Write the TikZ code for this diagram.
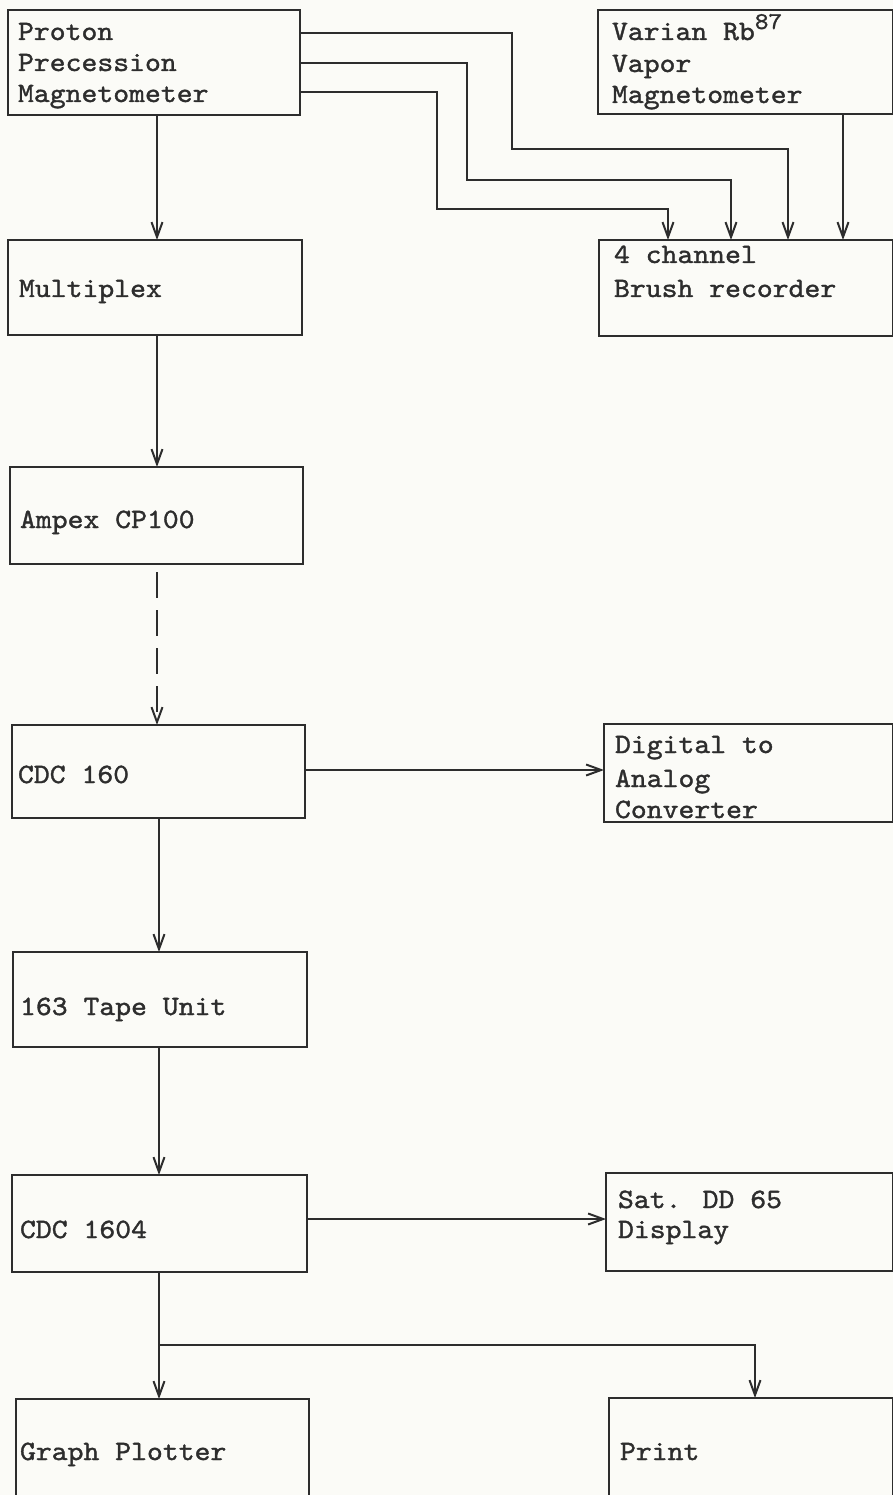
\documentclass[tikz,border=0pt]{standalone}
\usepackage{fontspec}
\newfontfamily\tw{lmmono10-regular.otf}[FakeStretch=1.08,FakeBold=1.3]
\usetikzlibrary{arrows.meta}
\definecolor{ink}{RGB}{45,45,45}
\definecolor{paper}{RGB}{251,251,247}
\begin{document}
\begin{tikzpicture}[x=1pt,y=-1pt,
  box/.style={draw=ink, line width=2.1pt, inner sep=0pt, outer sep=0pt, rectangle, anchor=north west},
  lbl/.style={anchor=base west, inner sep=0pt, outer sep=0pt, text=ink, font=\fontsize{28}{31}\selectfont\tw},
  conn/.style={draw=ink, line width=2pt, -{Straight Barb[length=15pt,width=11pt]}},
  dashconn/.style={conn, dash pattern=on 26pt off 12pt, dash phase=30pt},
]
\fill[paper] (0,0) rectangle (893,1495);
\useasboundingbox (0,0) rectangle (893,1495);

% boxes
\node[box, minimum width=292pt, minimum height=105pt] (proton)    at (8,10) {};
\node[box, minimum width=295pt, minimum height=104pt] (varian)    at (598,10) {};
\node[box, minimum width=294pt, minimum height=95pt]  (multiplex) at (8,240) {};
\node[box, minimum width=294pt, minimum height=96pt]  (brush)     at (599,240) {};
\node[box, minimum width=293pt, minimum height=97pt]  (ampex)     at (10,467) {};
\node[box, minimum width=293pt, minimum height=93pt]  (cdcA)      at (12,725) {};
\node[box, minimum width=289pt, minimum height=98pt]  (dac)       at (604,724) {};
\node[box, minimum width=294pt, minimum height=95pt]  (tape)      at (13,952) {};
\node[box, minimum width=295pt, minimum height=97pt]  (cdcB)      at (12,1175) {};
\node[box, minimum width=287pt, minimum height=98pt]  (sat)       at (606,1173) {};
\node[box, minimum width=293pt, minimum height=110pt] (graph)     at (16,1399) {};
\node[box, minimum width=284pt, minimum height=110pt] (print)     at (609,1398) {};

% labels
\node[lbl] (t1a) at (18,40)  {Proton};
\node[lbl] (t1b) at (18,71)  {Precession};
\node[lbl] (t1c) at (18,102) {Magnetometer};
\node[lbl] (t2a) at (612,40) {Varian Rb\raisebox{11pt}{\fontsize{24}{24}\selectfont\tw 87}};
\node[lbl] (t2b) at (612,72) {Vapor};
\node[lbl] (t2c) at (612,103) {Magnetometer};
\node[lbl] (t3)  at (19,297) {Multiplex};
\node[lbl] (t4a) at (614,263) {4 channel};
\node[lbl] (t4b) at (614,297) {Brush recorder};
\node[lbl] (t5)  at (20,528) {Ampex CP100};
\node[lbl] (t6)  at (18,783) {CDC 160};
\node[lbl] (t7a) at (615,753) {Digital to};
\node[lbl] (t7b) at (615,787) {Analog};
\node[lbl] (t7c) at (615,818) {Converter};
\node[lbl] (t8)  at (20,1015) {163 Tape Unit};
\node[lbl] (t9)  at (20,1238) {CDC 1604};
\node[lbl] (t10a) at (618,1208) {Sat. DD 65};
\node[lbl] (t10b) at (618,1238) {Display};
\node[lbl] (t11) at (20,1460) {Graph Plotter};
\node[lbl] (t12) at (620,1460) {Print};

% connectors
\draw[conn] (proton.south -| 157,0) -- (multiplex.north -| 157,0);
\draw[conn] (proton.east |- 0,33) -| (512,149) -| (brush.north -| 788,0);
\draw[conn] (proton.east |- 0,63) -| (467,180) -| (brush.north -| 731,0);
\draw[conn] (proton.east |- 0,92) -| (437,209) -| (brush.north -| 668,0);
\draw[conn] (varian.south -| 843,0) -- (brush.north -| 843,0);
\draw[conn] (multiplex.south -| 157,0) -- (ampex.north -| 157,0);
\draw[dashconn] (ampex.south -| 157,0) -- (cdcA.north -| 157,0);
\draw[conn] (cdcA.east |- 0,770) -- (dac.west |- 0,770);
\draw[conn] (cdcA.south -| 159,0) -- (tape.north -| 159,0);
\draw[conn] (tape.south -| 159,0) -- (cdcB.north -| 159,0);
\draw[conn] (cdcB.east |- 0,1219) -- (sat.west |- 0,1219);
\draw[conn] (cdcB.south -| 159,0) -- (graph.north -| 159,0);
\coordinate (j) at (159,1345);
\draw[conn] (j) -| (print.north -| 755,0);
\end{tikzpicture}
\end{document}
